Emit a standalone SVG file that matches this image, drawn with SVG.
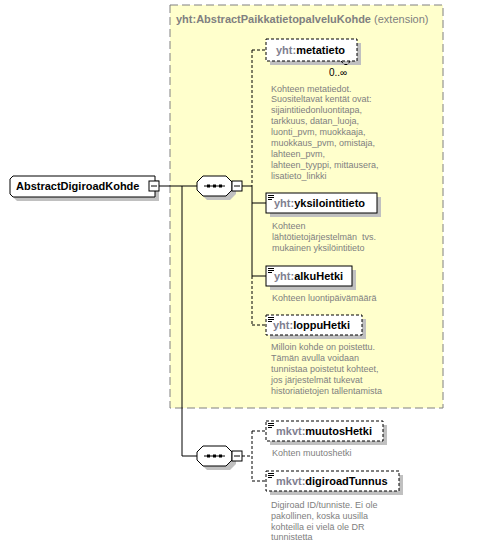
<svg xmlns="http://www.w3.org/2000/svg" width="485" height="547" viewBox="0 0 485 547">
<defs>
<style>
.ext{fill:#ffffcc;stroke:#808080;stroke-width:1;stroke-dasharray:8,4}
.shadow{fill:#c0c0c0;stroke:none}
.box{fill:#ffffff;stroke:#000000;stroke-width:1}
.dbox{fill:#ffffff;stroke:#000000;stroke-width:1;stroke-dasharray:3,2}
.line{fill:none;stroke:#000000;stroke-width:1}
.dline{fill:none;stroke:#000000;stroke-width:1;stroke-dasharray:3,2}
.name{font-family:"Liberation Sans",Arial,sans-serif;font-size:11px;font-weight:bold;fill:#000000}
.pfx{fill:#808090}
.title{font-family:"Liberation Sans",Arial,sans-serif;font-size:11px;font-weight:bold;fill:#808080}
.desc{font-family:"Liberation Sans",Arial,sans-serif;font-size:9px;fill:#808080}
.occ{font-family:"Liberation Sans",Arial,sans-serif;font-size:10px;fill:#000000}
</style>
<g id="minus">
<rect x="0" y="0" width="10" height="10" class="box"/>
<line x1="2" y1="5" x2="8" y2="5" class="line"/>
</g>
<g id="seq">
<polygon points="10,4 33,4 39,10 39,18 33,24 10,24 4,18 4,10" class="shadow"/>
<polygon points="6,0 29,0 35,6 35,14 29,20 6,20 0,14 0,6" class="box"/>
<line x1="7" y1="10" x2="28" y2="10" class="line"/>
<rect x="10" y="8.5" width="3" height="3" fill="#000"/>
<rect x="16" y="8.5" width="3" height="3" fill="#000"/>
<rect x="22" y="8.5" width="3" height="3" fill="#000"/>
</g>
<g id="icon">
<line x1="2" y1="2.5" x2="8" y2="2.5" class="line"/>
<line x1="2" y1="4.5" x2="8" y2="4.5" class="line"/>
<line x1="2" y1="6.5" x2="6" y2="6.5" class="line"/>
</g>
</defs>
<rect width="485" height="547" fill="#ffffff"/>

<g id="extension">
<rect x="170" y="5" width="273" height="403" class="ext"/>
<text x="176" y="23" class="title">yht:AbstractPaikkatietopalveluKohde<tspan font-weight="normal"> (extension)</tspan></text>
</g>

<g id="connectors">
<line x1="159" y1="186" x2="197" y2="186" class="line"/>
<line x1="182" y1="186" x2="182" y2="456" class="line"/>
<line x1="182" y1="456" x2="197" y2="456" class="line"/>
<line x1="242" y1="186" x2="252" y2="186" class="line"/>
<line x1="252" y1="50" x2="252" y2="186" class="dline"/>
<line x1="252" y1="186" x2="252" y2="276" class="line"/>
<line x1="252" y1="276" x2="252" y2="325" class="dline"/>
<line x1="252" y1="50" x2="266" y2="50" class="dline"/>
<line x1="252" y1="203" x2="266" y2="203" class="line"/>
<line x1="252" y1="276" x2="266" y2="276" class="line"/>
<line x1="252" y1="325" x2="266" y2="325" class="dline"/>
<line x1="242" y1="456" x2="252" y2="456" class="dline"/>
<line x1="252" y1="431" x2="252" y2="481" class="dline"/>
<line x1="252" y1="431" x2="266" y2="431" class="dline"/>
<line x1="252" y1="481" x2="266" y2="481" class="dline"/>
</g>

<g id="AbstractDigiroadKohde">
<path d="M17,180 H159 V201 H17 L14,198 V183 Z" class="shadow"/>
<path d="M13,176 H155 V197 H13 L10,194 V179 Z" class="box"/>
<text x="16" y="190" class="name">AbstractDigiroadKohde</text>
<use href="#minus" x="149" y="181"/>
</g>

<g id="sequence1">
<use href="#seq" x="197" y="176"/>
<use href="#minus" x="232" y="181"/>
</g>

<g id="metatieto">
<rect x="270" y="43" width="91" height="22" class="shadow"/>
<rect x="266" y="39" width="91" height="22" class="dbox"/>
<polyline points="341,61 344,64.5 348,64.5 350,61" class="dline"/>
<text x="276" y="54" class="name"><tspan class="pfx">yht:</tspan>metatieto</text>
<text x="329" y="76" class="occ">0..∞</text>
<text class="desc">
<tspan x="271" y="91.5">Kohteen metatiedot.</tspan>
<tspan x="271" y="102.4">Suositeltavat kentät ovat:</tspan>
<tspan x="271" y="113.3">sijaintitiedonluontitapa,</tspan>
<tspan x="271" y="124.2">tarkkuus, datan_luoja,</tspan>
<tspan x="271" y="135.1">luonti_pvm, muokkaaja,</tspan>
<tspan x="271" y="146">muokkaus_pvm, omistaja,</tspan>
<tspan x="271" y="156.9">lahteen_pvm,</tspan>
<tspan x="271" y="167.8">lahteen_tyyppi, mittausera,</tspan>
<tspan x="271" y="178.7">lisatieto_linkki</tspan>
</text>
</g>

<g id="yksilointitieto">
<rect x="270" y="197" width="111" height="20" class="shadow"/>
<rect x="266" y="193" width="111" height="20" class="box"/>
<use href="#icon" x="266" y="193"/>
<text x="274" y="207" class="name"><tspan class="pfx">yht:</tspan>yksilointitieto</text>
<text class="desc">
<tspan x="272" y="229">Kohteen</tspan>
<tspan x="272" y="240" xml:space="preserve">lähtötietojärjestelmän  tvs.</tspan>
<tspan x="272" y="251">mukainen yksilöintitieto</tspan>
</text>
</g>

<g id="alkuHetki">
<rect x="270" y="270" width="86" height="20" class="shadow"/>
<rect x="266" y="266" width="86" height="20" class="box"/>
<use href="#icon" x="266" y="266"/>
<text x="274" y="280" class="name"><tspan class="pfx">yht:</tspan>alkuHetki</text>
<text x="272" y="301" class="desc">Kohteen luontipäivämäärä</text>
</g>

<g id="loppuHetki">
<rect x="270" y="319" width="96" height="20" class="shadow"/>
<rect x="266" y="315" width="96" height="20" class="dbox"/>
<use href="#icon" x="266" y="315"/>
<text x="273" y="329" class="name"><tspan class="pfx">yht:</tspan>loppuHetki</text>
<text class="desc">
<tspan x="271" y="350">Milloin kohde on poistettu.</tspan>
<tspan x="271" y="361">Tämän avulla voidaan</tspan>
<tspan x="271" y="372">tunnistaa poistetut kohteet,</tspan>
<tspan x="271" y="383">jos järjestelmät tukevat</tspan>
<tspan x="271" y="394">historiatietojen tallentamista</tspan>
</text>
</g>

<g id="sequence2">
<use href="#seq" x="197" y="446"/>
<use href="#minus" x="232" y="451"/>
</g>

<g id="muutosHetki">
<rect x="270" y="425" width="117" height="20" class="shadow"/>
<rect x="266" y="421" width="117" height="20" class="dbox"/>
<use href="#icon" x="266" y="421"/>
<text x="276" y="435" class="name"><tspan class="pfx">mkvt:</tspan>muutosHetki</text>
<text x="272" y="456" class="desc">Kohten muutoshetki</text>
</g>

<g id="digiroadTunnus">
<rect x="270" y="475" width="133" height="20" class="shadow"/>
<rect x="266" y="471" width="133" height="20" class="dbox"/>
<use href="#icon" x="266" y="471"/>
<text x="276" y="485" class="name"><tspan class="pfx">mkvt:</tspan>digiroadTunnus</text>
<text class="desc">
<tspan x="271" y="507.5">Digiroad ID/tunniste. Ei ole</tspan>
<tspan x="271" y="518.5">pakollinen, koska uusilla</tspan>
<tspan x="271" y="529.5">kohteilla ei vielä ole DR</tspan>
<tspan x="271" y="540">tunnistetta</tspan>
</text>
</g>
</svg>
